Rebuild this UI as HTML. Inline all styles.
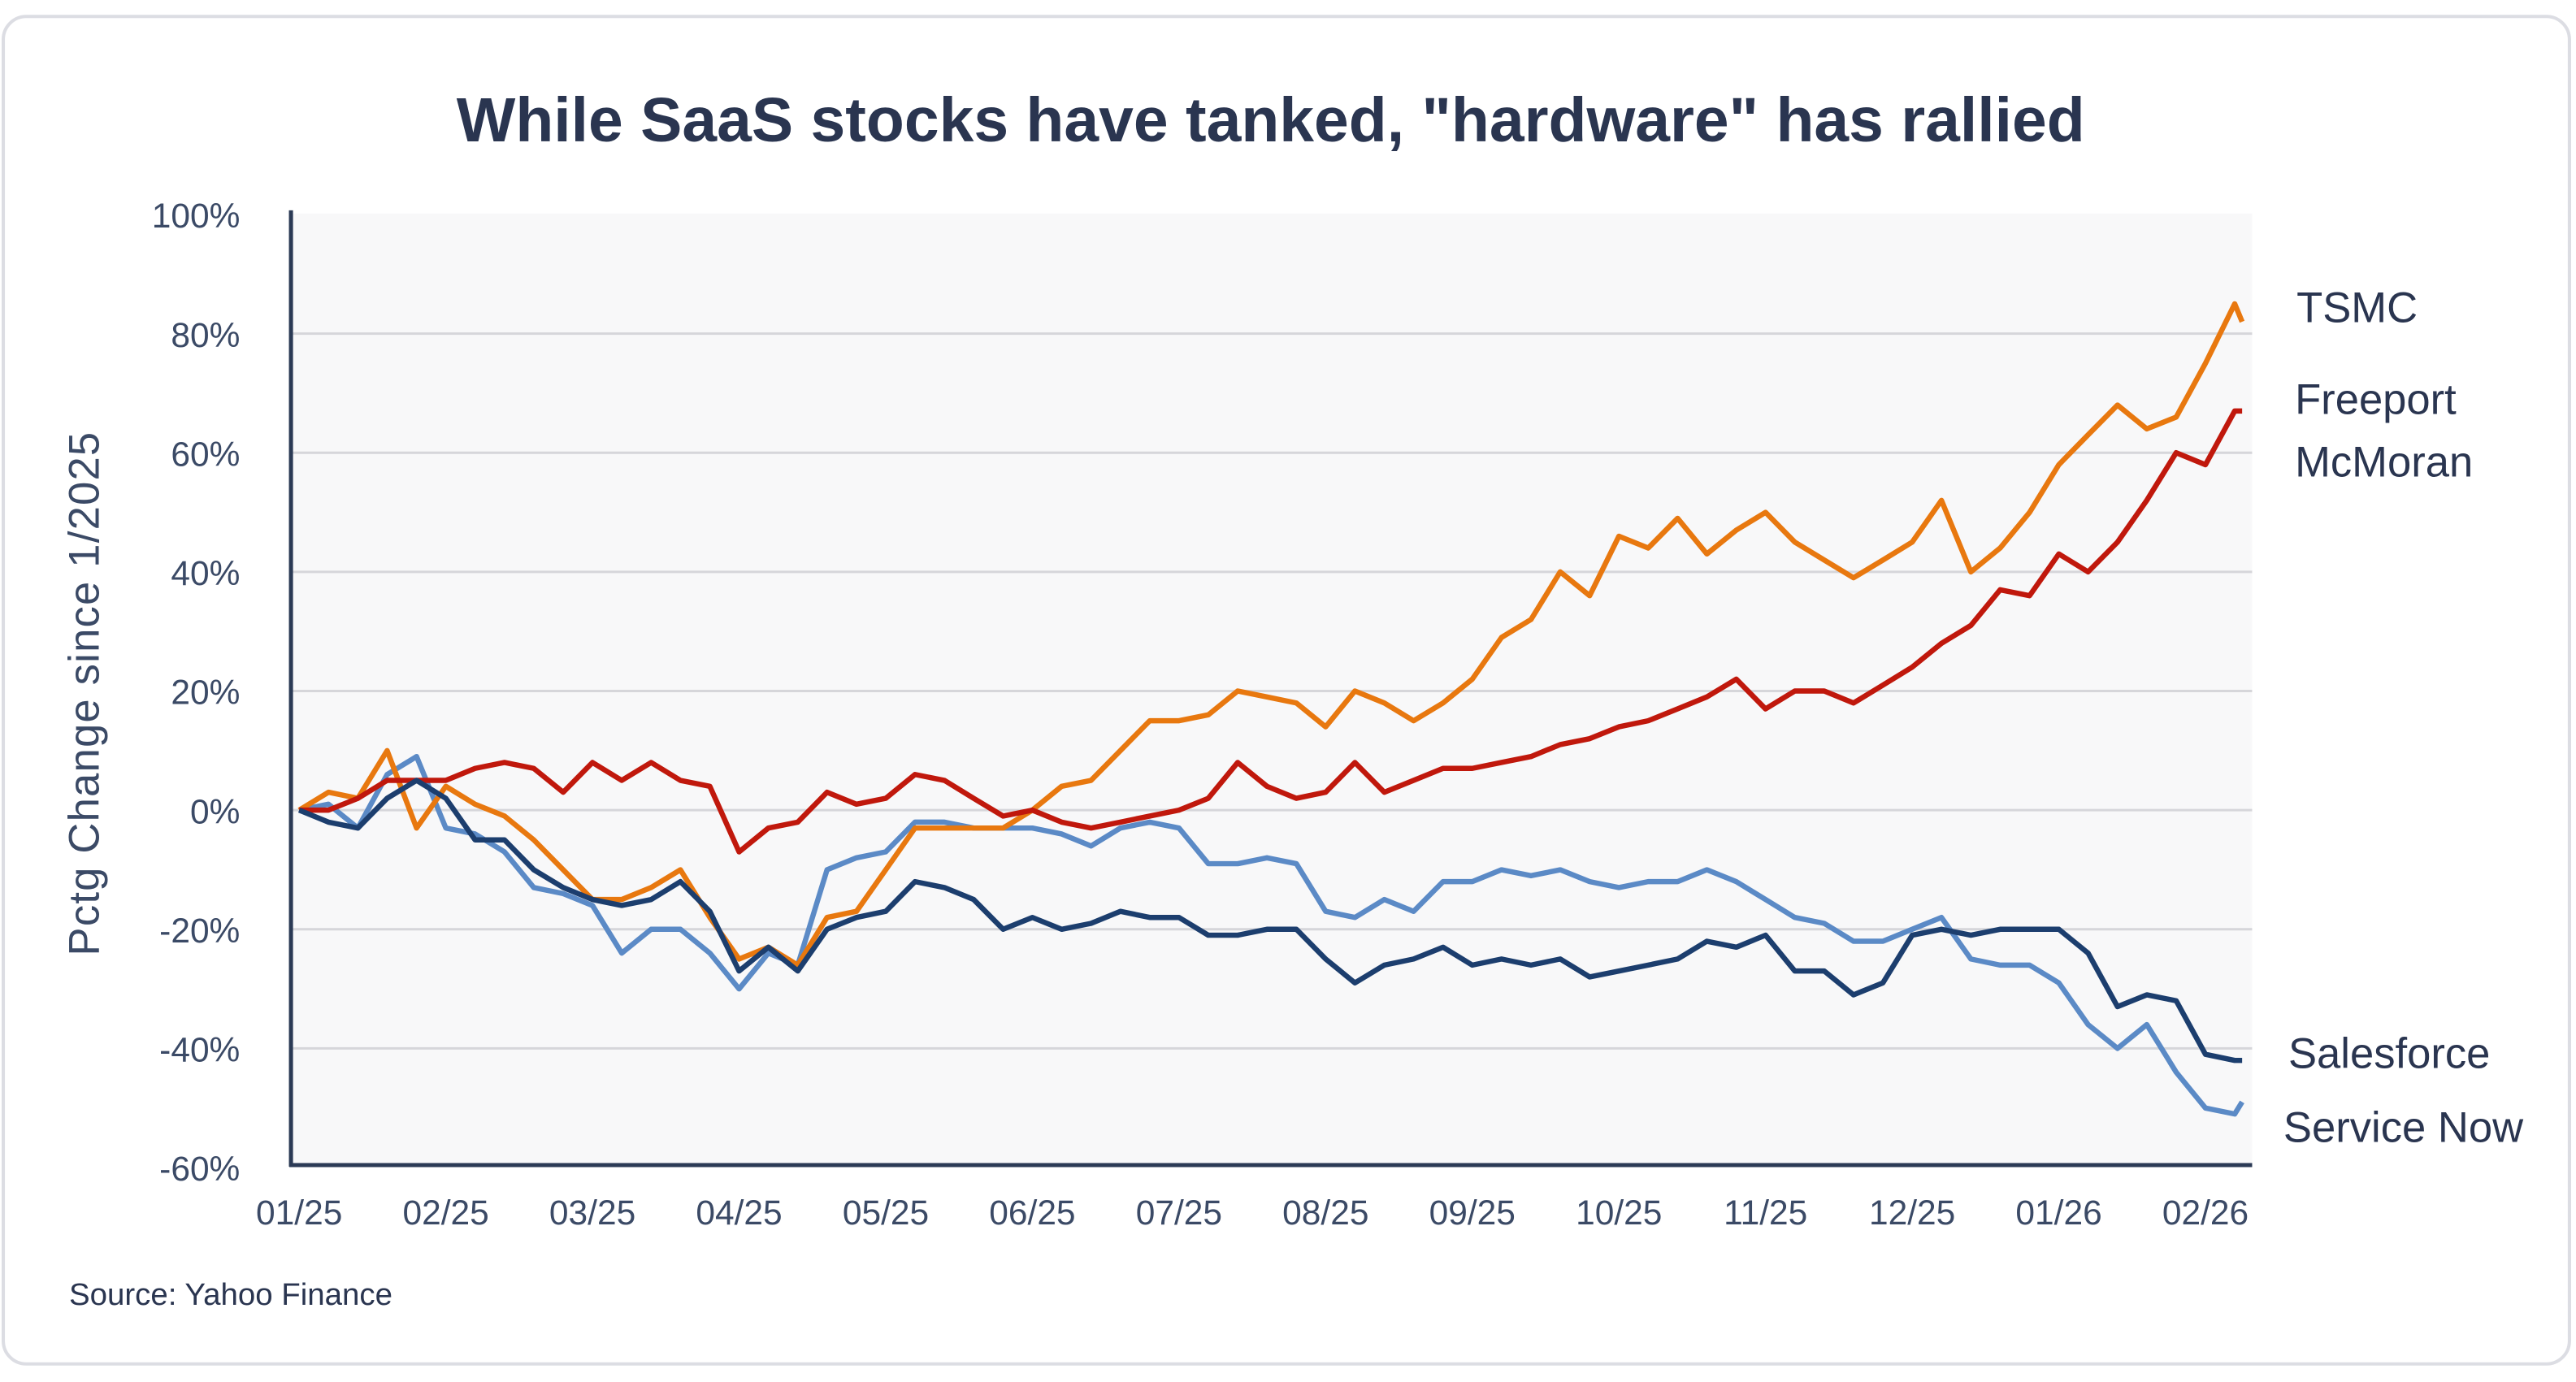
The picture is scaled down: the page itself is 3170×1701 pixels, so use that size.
<!DOCTYPE html>
<html><head><meta charset="utf-8"><style>
html,body{margin:0;padding:0;background:#fff;}
svg{display:block;}
text{font-family:"Liberation Sans",sans-serif;}
</style></head><body>
<svg id="chart" width="3170" height="1701" viewBox="0 0 1567 841" preserveAspectRatio="none" xmlns="http://www.w3.org/2000/svg">
<rect x="2" y="10" width="1561" height="820" rx="14" fill="#fff" stroke="#dcdde3" stroke-width="2"/>
<text x="773" y="86" text-anchor="middle" font-size="38" font-weight="bold" fill="#2a3550">While SaaS stocks have tanked, "hardware" has rallied</text>
<rect x="177" y="130" width="1193" height="580" fill="#f8f8f9"/>
<g id="grid"></g>
<g id="yticks"></g>
<g id="xticks"></g>
<text transform="translate(60,422) rotate(-90)" text-anchor="middle" font-size="26" letter-spacing="0.6" fill="#3b4a66">Pctg Change since 1/2025</text>
<g id="series"></g>
<line x1="177" y1="128" x2="177" y2="710" stroke="#2b3a55" stroke-width="2.5"/>
<line x1="176" y1="709" x2="1370" y2="709" stroke="#2b3a55" stroke-width="2.5"/>
<text x="1397" y="196" font-size="26" fill="#2a3550">TSMC</text>
<text x="1396" y="252" font-size="26" fill="#2a3550">Freeport</text>
<text x="1396" y="290" font-size="26" fill="#2a3550">McMoran</text>
<text x="1392" y="650" font-size="26" fill="#2a3550">Salesforce</text>
<text x="1389" y="695" font-size="26" fill="#2a3550">Service Now</text>
<text x="42" y="794" font-size="19" fill="#2a3550">Source: Yahoo Finance</text>
</svg>
<script>
const yTicks=[100,80,60,40,20,0,-20,-40,-60];
const xTickLabels=["01/25","02/25","03/25","04/25","05/25","06/25","07/25","08/25","09/25","10/25","11/25","12/25","01/26","02/26"];
const months=[];for(let i=0;i<=66;i++)months.push(+(i*0.2).toFixed(2));months.push(13.25);
const tsmc=[0,3,2,10,-3,4,1,-1,-5,-10,-15,-15,-13,-10,-18,-25,-23,-26,-18,-17,-10,-3,-3,-3,-3,0,4,5,10,15,15,16,20,19,18,14,20,18,15,18,22,29,32,40,36,46,44,49,43,47,50,45,42,39,42,45,52,40,44,50,58,63,68,64,66,75,85,82];
const freeport=[0,0,2,5,5,5,7,8,7,3,8,5,8,5,4,-7,-3,-2,3,1,2,6,5,2,-1,0,-2,-3,-2,-1,0,2,8,4,2,3,8,3,5,7,7,8,9,11,12,14,15,17,19,22,17,20,20,18,21,24,28,31,37,36,43,40,45,52,60,58,67,67];
const salesforce=[0,-2,-3,2,5,2,-5,-5,-10,-13,-15,-16,-15,-12,-17,-27,-23,-27,-20,-18,-17,-12,-13,-15,-20,-18,-20,-19,-17,-18,-18,-21,-21,-20,-20,-25,-29,-26,-25,-23,-26,-25,-26,-25,-28,-27,-26,-25,-22,-23,-21,-27,-27,-31,-29,-21,-20,-21,-20,-20,-20,-24,-33,-31,-32,-41,-42,-42];
const servicenow=[0,1,-3,6,9,-3,-4,-7,-13,-14,-16,-24,-20,-20,-24,-30,-24,-26,-10,-8,-7,-2,-2,-3,-3,-3,-4,-6,-3,-2,-3,-9,-9,-8,-9,-17,-18,-15,-17,-12,-12,-10,-11,-10,-12,-13,-12,-12,-10,-12,-15,-18,-19,-22,-22,-20,-18,-25,-26,-26,-29,-36,-40,-36,-44,-50,-51,-49];
const NS="http://www.w3.org/2000/svg";
const X=m=>182+m*89.2;
const Y=v=>493-v*3.625;
function mk(tag,attrs,parent){const e=document.createElementNS(NS,tag);for(const k in attrs)e.setAttribute(k,attrs[k]);parent.appendChild(e);return e;}
const grid=document.getElementById('grid'),yt=document.getElementById('yticks'),xt=document.getElementById('xticks'),sg=document.getElementById('series');
yTicks.forEach(v=>{
  if(v!==-60&&v!==100){const l=mk('line',{x1:177,x2:1370,y1:Y(v),y2:Y(v),stroke:'#d6d6da','stroke-width':1.5},grid);
  
  }
  const t=mk('text',{x:146,y:Y(v)+8,'text-anchor':'end','font-size':21,fill:'#3b4a66'},yt);t.textContent=v+'%';
  
  
});
xTickLabels.forEach((s,i)=>{
  const t=mk('text',{x:X(i),y:745,'text-anchor':'middle','font-size':21,fill:'#3b4a66'},xt);t.textContent=s;
  
  
});
function line(vals,color,name){
  const d=vals.map((v,i)=>(i?'L':'M')+X(months[i]).toFixed(1)+' '+Y(v).toFixed(1)).join(' ');
  const p=mk('path',{d:d,fill:'none',stroke:color,'stroke-width':3.2,'stroke-linejoin':'round'},sg);
  
  
}
line(servicenow,'#5b8ac6','line-servicenow');
line(tsmc,'#e8780f','line-tsmc');
line(freeport,'#c0180c','line-freeport');
line(salesforce,'#1c3e6e','line-salesforce');
</script>
</body></html>
